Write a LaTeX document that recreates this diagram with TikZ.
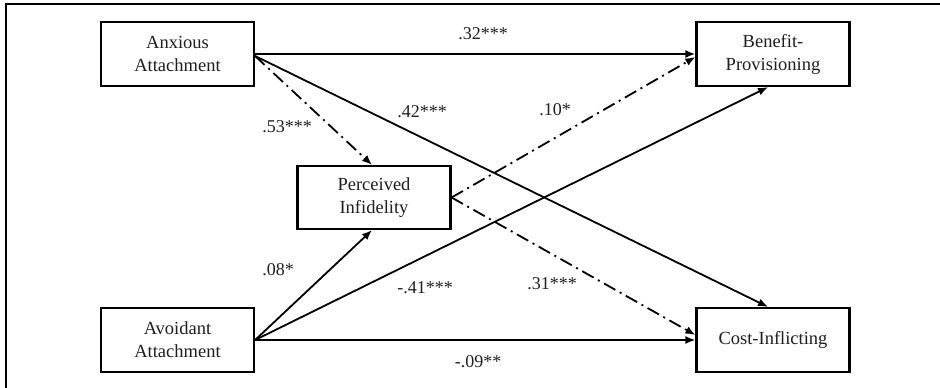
\documentclass[tikz,border=0pt]{standalone}
\usepackage{fontspec}
\setmainfont{Liberation Serif}
\usetikzlibrary{arrows.meta,calc}
\begin{document}
\begin{tikzpicture}[x=1pt,y=-1pt,
  varbox/.style={draw,line width=2.2pt,minimum width=153pt,minimum height=64pt,inner sep=0pt,align=center,font=\fontsize{18.5}{23}\selectfont,text=black!88},
  pathsolid/.style={line width=1.8pt,-{Latex[length=10pt,width=8pt]}},
  pathdd/.style={line width=1.8pt,dash pattern=on 13pt off 5pt on 2pt off 5pt,-{Latex[length=10pt,width=8pt]}},
  coef/.style={font=\fontsize{18}{20}\selectfont,text=black!88,inner sep=0pt}]
\useasboundingbox (0,0) rectangle (940,388);
\fill[white] (0,0) rectangle (940,388);
\coordinate (frl) at (6,388);
\coordinate (frc) at (6,4);
\coordinate (frr) at (940,4);
\draw[line width=2.8pt] (frl) -- (frc) -- (frr);

\node[varbox] (anx) at (177.5,54) {Anxious\\Attachment};
\node[varbox] (ben) at (773,54) {Benefit-\\Provisioning};
\node[varbox,minimum height=63pt] (perc) at (374,197.5) {Perceived\\Infidelity};
\node[varbox] (avo) at (177.5,340) {Avoidant\\Attachment};
\node[varbox] (cost) at (773,340) {Cost-Inflicting};

\draw[pathsolid] (anx.east) -- (ben.west);
\draw[pathsolid] ([yshift=-2pt]anx.east) -- ([xshift=-5pt]cost.north);
\draw[pathdd] ([yshift=-2pt]anx.east) -- ([xshift=-2pt]perc.north);
\draw[pathdd] (perc.east) -- ([yshift=-3pt]ben.west);
\draw[pathdd] (perc.east) -- ([yshift=5pt]cost.west);
\draw[pathsolid] (avo.east) -- ([xshift=-2pt]perc.south);
\draw[pathsolid] (avo.east) -- ([xshift=-5pt]ben.south);
\draw[pathsolid] (avo.east) -- (cost.west);

\node[coef] (l32) at (483,34) {.32***};
\node[coef] (l42) at (422,112) {.42***};
\node[coef] (l53) at (287,127) {.53***};
\node[coef] (l10) at (555,110) {.10*};
\node[coef] (l31) at (552,284) {.31***};
\node[coef] (l08) at (278,270) {.08*};
\node[coef] (l41) at (425,288) {-.41***};
\node[coef] (l09) at (478,362) {-.09**};
\end{tikzpicture}
\end{document}
